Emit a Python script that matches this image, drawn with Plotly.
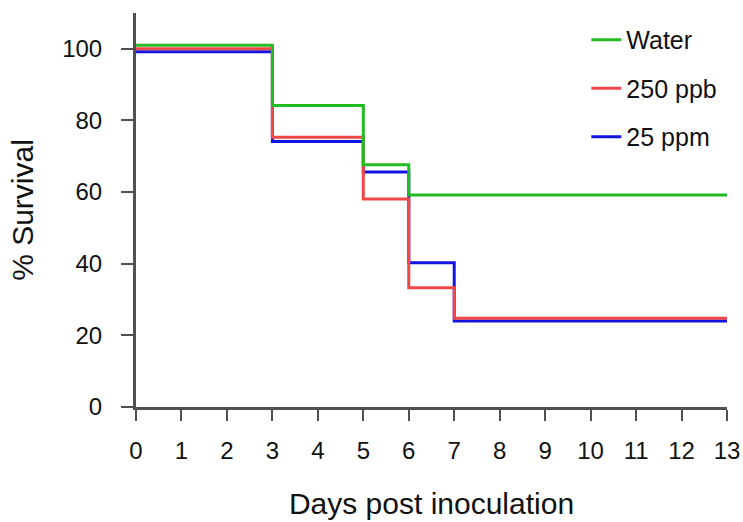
import plotly.graph_objects as go

days = [0, 3, 5, 6, 7, 13]
water = [101.0, 84.2, 67.6, 59.2, 59.2, 59.2]
ppb250 = [100.0, 75.3, 58.1, 33.3, 24.8, 24.8]
ppm25 = [99.2, 74.1, 65.6, 40.3, 24.0, 24.0]

series = [
    ("25 ppm", ppm25, "#1414E0", 3),
    ("250 ppb", ppb250, "#F04848", 2),
    ("Water", water, "#22BB22", 1),
]

x_ticks = list(range(0, 14))
y_ticks = [0, 20, 40, 60, 80, 100]

FONT = "Liberation Sans, Arial, sans-serif"
AXIS = "#505050"

fig = go.Figure()
for name, vals, color, rank in series:
    fig.add_trace(go.Scatter(
        x=days, y=vals, name=name, mode="lines",
        line=dict(color=color, width=3, shape="hv"),
        legendrank=rank, legendgroup=name,
    ))

fig.update_layout(
    width=743, height=522,
    margin=dict(l=136, r=16, t=13, b=115),
    paper_bgcolor="white", plot_bgcolor="white",
    font=dict(family=FONT, color="#111111", size=24),
    showlegend=True,
    legend=dict(
        x=0.762, y=0.99, xanchor="left", yanchor="top",
        font=dict(size=25, family=FONT, color="#111111"),
        bgcolor="rgba(0,0,0,0)", tracegroupgap=13,
        itemwidth=30,
    ),
    xaxis=dict(
        range=[0, 13], tickvals=x_ticks, ticktext=[str(v) for v in x_ticks],
        showgrid=False, zeroline=False, showline=True, linecolor=AXIS, linewidth=3,
        ticks="outside", ticklen=11, tickwidth=2, tickcolor=AXIS,
        tickfont=dict(size=24), ticklabelstandoff=9, automargin=False,
        title=dict(text="Days post inoculation", font=dict(size=30), standoff=31),
    ),
    yaxis=dict(
        range=[0, 110], tickvals=y_ticks, ticktext=[str(v) for v in y_ticks],
        showgrid=False, zeroline=False, showline=True, linecolor=AXIS, linewidth=3,
        ticks="outside", ticklen=12, tickwidth=2, tickcolor=AXIS,
        tickfont=dict(size=24), ticklabelstandoff=14, automargin=False,
        title=dict(text="% Survival", font=dict(size=30), standoff=20),
    ),
)

fig.write_html("out.html")
